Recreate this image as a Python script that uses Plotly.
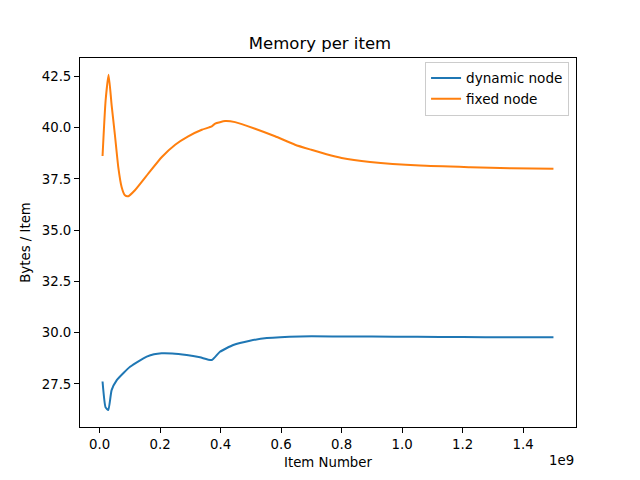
import plotly.graph_objects as go

# Data (x in items, y in bytes/item)
dyn_x = [0.010e9, 0.020e9, 0.029e9, 0.040e9, 0.057e9, 0.080e9, 0.101e9, 0.130e9, 0.156e9,
         0.180e9, 0.205e9, 0.240e9, 0.288e9, 0.332e9, 0.371e9, 0.398e9, 0.442e9, 0.497e9,
         0.553e9, 0.663e9, 0.780e9, 0.900e9, 1.050e9, 1.200e9, 1.350e9, 1.500e9]
dyn_y = [27.62, 26.36, 26.23, 27.20, 27.69, 28.05, 28.34, 28.62, 28.83,
         28.95, 29.00, 28.99, 28.91, 28.80, 28.67, 29.07, 29.40, 29.61,
         29.74, 29.82, 29.82, 29.81, 29.80, 29.79, 29.78, 29.78]

fix_x = [0.010e9, 0.020e9, 0.030e9, 0.040e9, 0.051e9, 0.062e9, 0.073e9, 0.084e9, 0.095e9,
         0.117e9, 0.161e9, 0.206e9, 0.250e9, 0.293e9, 0.338e9, 0.371e9, 0.382e9, 0.415e9,
         0.448e9, 0.514e9, 0.580e9, 0.646e9, 0.700e9, 0.750e9, 0.800e9, 0.894e9, 1.059e9,
         1.225e9, 1.360e9, 1.500e9]
fix_y = [38.62, 41.30, 42.58, 41.10, 39.63, 38.08, 37.11, 36.70, 36.66,
         36.95, 37.76, 38.57, 39.17, 39.58, 39.90, 40.06, 40.20, 40.32,
         40.27, 39.95, 39.58, 39.17, 38.92, 38.70, 38.52, 38.33, 38.15,
         38.07, 38.02, 38.00]

tick_vals = [0.0, 0.2e9, 0.4e9, 0.6e9, 0.8e9, 1.0e9, 1.2e9, 1.4e9]
tick_text = ["0.0", "0.2", "0.4", "0.6", "0.8", "1.0", "1.2", "1.4"]
y_ticks = [27.5, 30.0, 32.5, 35.0, 37.5, 40.0, 42.5]
y_text = ["27.5", "30.0", "32.5", "35.0", "37.5", "40.0", "42.5"]

FONT = "DejaVu Sans"

fig = go.Figure()
fig.add_trace(go.Scatter(x=dyn_x, y=dyn_y, mode="lines", name="dynamic node",
                         line=dict(color="#1f77b4", width=2, shape="spline", smoothing=0.5)))
fig.add_trace(go.Scatter(x=fix_x, y=fix_y, mode="lines", name="fixed node",
                         line=dict(color="#ff7f0e", width=2, shape="spline", smoothing=0.5)))

xmin, xmax = 0.01e9, 1.5e9
xr = xmax - xmin
ymin, ymax = 26.22, 42.58
yr = ymax - ymin

fig.update_layout(
    width=640, height=480,
    margin=dict(l=80, r=64, t=57.6, b=52.8, pad=0),
    paper_bgcolor="white", plot_bgcolor="white",
    font=dict(family=FONT, size=13.3, color="black"),
    title=dict(text="Memory per item", x=0.5, xanchor="center", yref="container",
               y=1 - 49 / 480, yanchor="bottom", font=dict(size=16.5, family=FONT)),
    showlegend=True,
    legend=dict(x=0.986, y=0.99, xanchor="right", yanchor="top",
                bordercolor="#cccccc", borderwidth=1, bgcolor="rgba(255,255,255,0.8)",
                font=dict(size=13.6, family=FONT), itemwidth=30,
                tracegroupgap=0),
    xaxis=dict(range=[xmin - 0.05 * xr, xmax + 0.05 * xr], tickmode="array",
               tickvals=tick_vals, ticktext=tick_text, showgrid=False, zeroline=False,
               showline=True, linecolor="black", linewidth=1, mirror=True,
               ticks="outside", ticklen=5, tickwidth=1, tickcolor="black",
               title=dict(text="Item Number", standoff=6, font=dict(size=13.3))),
    yaxis=dict(range=[ymin - 0.05 * yr, ymax + 0.05 * yr], tickmode="array",
               tickvals=y_ticks, ticktext=y_text, showgrid=False, zeroline=False,
               showline=True, linecolor="black", linewidth=1, mirror=True,
               ticks="outside", ticklen=5, tickwidth=1, tickcolor="black",
               title=dict(text="Bytes / Item", standoff=8, font=dict(size=13.3))),
    annotations=[dict(text="1e9", xref="paper", yref="paper", x=1.0, y=-0.066,
                      xanchor="right", yanchor="top", showarrow=False,
                      font=dict(size=13.3, family=FONT))],
)

fig.write_html("out.html")
